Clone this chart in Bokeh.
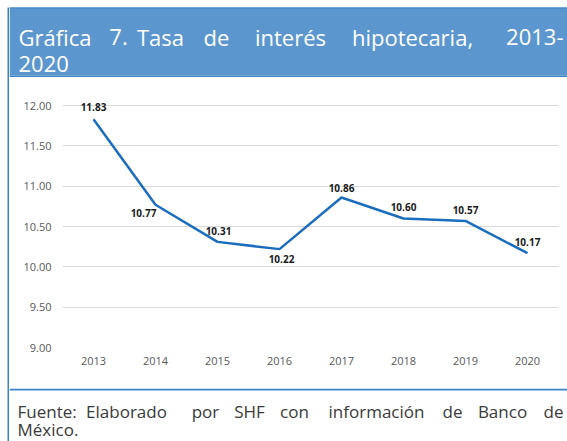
from bokeh.plotting import figure
from bokeh.layouts import row, column
from bokeh.models import Range1d, FactorRange, FixedTicker, ColumnDataSource, NumeralTickFormatter
from bokeh.embed import file_html
from bokeh.resources import INLINE
from bokeh.core.properties import value

# ---------------- data ----------------
years = ["2013", "2014", "2015", "2016", "2017", "2018", "2019", "2020"]
rates = [11.83, 10.77, 10.31, 10.22, 10.86, 10.60, 10.57, 10.17]
rate_labels = ["11.83", "10.77", "10.31", "10.22", "10.86", "10.60", "10.57", "10.17"]
y_ticks = [9.0, 9.5, 10.0, 10.5, 11.0, 11.5, 12.0]

title_words = ["Gráfica", "7.", "Tasa", "de", "interés", "hipotecaria,", "2013-"]
title_line2 = "2020"
source_words = ["Fuente:", "Elaborado", "por", "SHF", "con", "información", "de", "Banco", "de"]
source_line2 = "México."

# ---------------- style ----------------
FONT = "Open Sans"
BORDER = "#3A84C6"
HEADER_FILL = "#5B97CE"
PAGE_W, PAGE_H = 567, 441
STRIP_W = 9
CONTENT_W = PAGE_W - STRIP_W
HEADER_H = 77
FOOTER_TOP = 388
CHART_H = FOOTER_TOP - HEADER_H
FOOTER_H = PAGE_H - FOOTER_TOP


def pixel_fig(w, h, x0, y0):
    """A figure whose frame is the whole canvas, with page-pixel coordinates."""
    f = figure(width=w, height=h, x_range=Range1d(x0, x0 + w), y_range=Range1d(y0 + h, y0),
               x_axis_type=None, y_axis_type=None, output_backend="svg",
               toolbar_location=None, min_border=0, frame_align=False,
               background_fill_color="white", border_fill_color="white")
    f.outline_line_color = None
    f.grid.visible = False
    return f


# left border strip
strip = pixel_fig(STRIP_W, PAGE_H, 0, 0)
strip.quad(left=[7], right=[9], top=[7], bottom=[PAGE_H], fill_color=BORDER, line_color=None)

# header (justified title)
header = pixel_fig(CONTENT_W, HEADER_H, STRIP_W, 0)
header.quad(left=[STRIP_W], right=[PAGE_W], top=[7], bottom=[75], fill_color=HEADER_FILL, line_color=None)
header.quad(left=[STRIP_W], right=[PAGE_W], top=[7], bottom=[8], fill_color=BORDER, line_color=None)
header.quad(left=[STRIP_W], right=[PAGE_W], top=[75], bottom=[77], fill_color=BORDER, line_color=None)
title_x = [18, 118, 160, 216, 290, 412, 563]
title_align = ["left", "center", "center", "center", "center", "center", "right"]
header.text(x=title_x, y=[36] * len(title_words), text=title_words, text_align=title_align,
            text_baseline="alphabetic", text_font=value(FONT), text_font_size="22px",
            text_color="white")
header.text(x=[18], y=[63], text=[title_line2], text_align="left", text_baseline="alphabetic",
            text_font=value(FONT), text_font_size="22px", text_color="white")

# chart
p = figure(width=CONTENT_W, height=CHART_H,
           x_range=FactorRange(*years, range_padding=0),
           y_range=Range1d(9, 12.15),
           output_backend="svg", toolbar_location=None, frame_align=False,
           min_border_left=62 - STRIP_W, min_border_right=PAGE_W - 558,
           min_border_top=16, min_border_bottom=41,
           background_fill_color="white", border_fill_color="white")
p.outline_line_color = None
p.yaxis.ticker = FixedTicker(ticks=y_ticks)
p.yaxis.formatter = NumeralTickFormatter(format="0.00")
for ax in (p.xaxis, p.yaxis):
    ax.axis_line_color = None
    ax.major_tick_line_color = None
    ax.minor_tick_line_color = None
    ax.major_tick_in = 0
    ax.major_tick_out = 0
    ax.minor_tick_in = 0
    ax.minor_tick_out = 0
    ax.major_label_text_font = FONT
    ax.major_label_text_font_size = "11px"
    ax.major_label_text_color = "#595959"
p.xaxis.major_label_standoff = 9
p.yaxis.major_label_standoff = 11
p.xgrid.grid_line_color = None
p.ygrid.grid_line_color = "#D9D9D9"
p.ygrid.grid_line_width = 1

label_dx = [0, -12, 1, 2, 0, 0, 0, 0]
label_dy = [-12, 8, -11, 10, -10, -11, -11, -11]
src = ColumnDataSource(dict(year=years, rate=rates, label=rate_labels, dx=label_dx, dy=label_dy))
p.line(x="year", y="rate", source=src, line_color="#1A6EBD", line_width=2.5)
p.text(x="year", y="rate", text="label", source=src, x_offset="dx", y_offset="dy",
       text_align="center", text_baseline="middle", text_font=value(FONT),
       text_font_size="10px", text_font_style="bold", text_color="#1A1A1A")

# footer (justified source line)
footer = pixel_fig(CONTENT_W, FOOTER_H, STRIP_W, FOOTER_TOP)
footer.quad(left=[STRIP_W], right=[PAGE_W], top=[FOOTER_TOP], bottom=[FOOTER_TOP + 2],
            fill_color=BORDER, line_color=None)
src_x = [17, 126, 205, 249, 294, 376, 452, 502, 563]
src_align = ["left"] + ["center"] * 7 + ["right"]
footer.text(x=src_x, y=[411] * len(source_words), text=source_words, text_align=src_align,
            text_baseline="alphabetic", text_font=value(FONT), text_font_size="17px",
            text_color="#3A3A3A")
footer.text(x=[17], y=[429], text=[source_line2], text_align="left", text_baseline="alphabetic",
            text_font=value(FONT), text_font_size="17px", text_color="#3A3A3A")

layout = row(strip, column(header, p, footer, spacing=0), spacing=0)
open("out.html", "w").write(file_html(layout, INLINE))
